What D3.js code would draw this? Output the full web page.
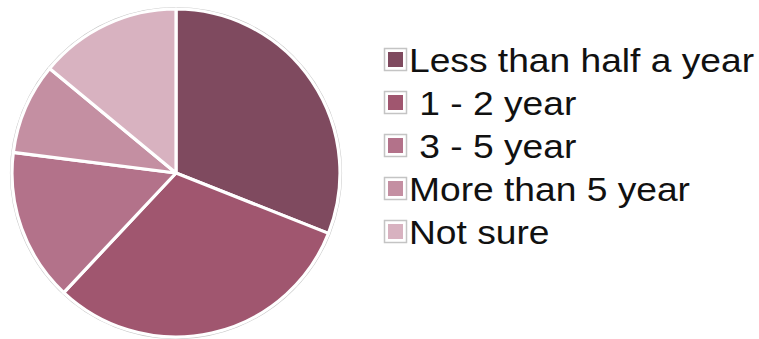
<!DOCTYPE html>
<html>
<head>
<meta charset="utf-8">
<script src="https://cdn.jsdelivr.net/npm/d3@7"></script>
<style>
  html, body { margin: 0; padding: 0; background: #fff; }
  svg { display: block; }
  text { font-family: "Liberation Sans", Arial, sans-serif; white-space: pre; }
</style>
</head>
<body>
<svg id="chart" width="759" height="339"></svg>
<script>
// Survey answers: how long respondents expect it to take (share of responses, %)
const categories = ["Less than half a year", " 1 - 2 year", " 3 - 5 year", "More than 5 year", "Not sure"];
const values = [31, 31, 15, 9, 14];
const colors = ["#7f4a5f", "#a0566f", "#b3728a", "#c48fa2", "#d8b2c0"];

const svg = d3.select("#chart");

const cx = 176, cy = 173, radius = 164;

const pie = d3.pie().sort(null).value(d => d)(values);
const arc = d3.arc().innerRadius(0).outerRadius(radius);
const color = d3.scaleOrdinal().domain(d3.range(categories.length)).range(colors);

const g = svg.append("g").attr("transform", `translate(${cx},${cy})`);

// thin grey rim around the whole pie
g.append("circle")
  .attr("r", radius + 1.5)
  .attr("fill", "#fff")
  .attr("stroke", "#c8c8c8")
  .attr("stroke-width", 1.2);

g.selectAll("path.slice")
  .data(pie)
  .join("path")
  .attr("class", "slice")
  .attr("d", arc)
  .attr("fill", (d, i) => color(i))
  .attr("stroke", "#fff")
  .attr("stroke-width", 3.2)
  .attr("stroke-linejoin", "round");

// Legend
const legendX = 384, legendY0 = 48, rowStep = 43;
const legend = svg.append("g");
const rows = legend.selectAll("g.row")
  .data(categories)
  .join("g")
  .attr("class", "row")
  .attr("transform", (d, i) => `translate(${legendX},${legendY0 + i * rowStep})`);

rows.append("rect")
  .attr("x", 0.5).attr("y", 0.5)
  .attr("width", 22).attr("height", 22)
  .attr("fill", "#fff")
  .attr("stroke", "#c4c4c4")
  .attr("stroke-width", 1.5);

rows.append("rect")
  .attr("x", 4).attr("y", 4)
  .attr("width", 15).attr("height", 15)
  .attr("fill", (d, i) => color(i));

rows.append("text")
  .attr("transform", "translate(25,23.5) scale(1.11,1)")
  .attr("font-size", 33.5)
  .attr("fill", "#111")
  .text(d => d);
</script>
</body>
</html>
